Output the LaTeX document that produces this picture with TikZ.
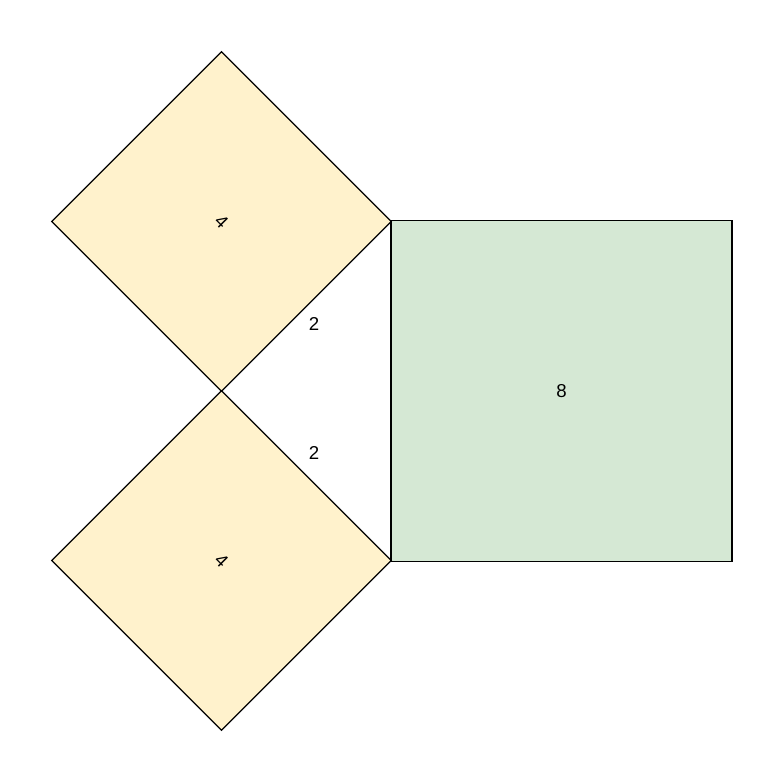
\documentclass[tikz,border=0pt]{standalone}
\usepackage{fontspec}
\setmainfont{Liberation Sans}
\usetikzlibrary{positioning}
\definecolor{sqyellow}{HTML}{FFF2CC}
\definecolor{sqgreen}{HTML}{D5E8D4}
\begin{document}
\begin{tikzpicture}[x=0.75pt,y=-0.75pt,line width=0.9pt,font=\fontsize{14pt}{16pt}\selectfont]
  \tikzstyle{leg}=[rectangle,draw=black,fill=sqyellow,minimum size=180pt,inner sep=0pt,rotate=-45]
  \tikzstyle{hyp}=[rectangle,draw=black,fill=sqgreen,minimum size=255.75pt,inner sep=0pt]
  \tikzstyle{len}=[inner sep=1pt]
  \useasboundingbox (0,0) rectangle (783,783);

  \node[hyp] (C) at (561.5,391) {8};
  \node[leg] (A) at (221.5,221.5) {4};
  \node[leg] (B) at (221.5,560.5) {4};

  % side lengths of the white triangle
  \node[len] (a) at (314,324) {2};
  \node[len] (b) at (314,453) {2};
\end{tikzpicture}
\end{document}
